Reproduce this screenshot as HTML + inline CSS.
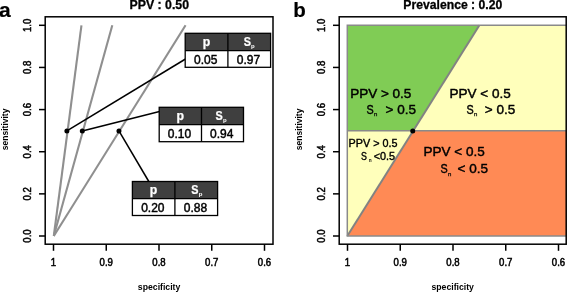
<!DOCTYPE html>
<html><head><meta charset="utf-8">
<style>
html,body{margin:0;padding:0;background:#fff;}
body{width:567px;height:292px;overflow:hidden;}
svg{display:block;font-family:"Liberation Sans",sans-serif;will-change:transform;}
.b{font-weight:bold;}
</style></head>
<body>
<svg width="567" height="292" viewBox="0 0 567 292">
<text x="-1" y="17.3" class="b" font-size="21" stroke="#000" stroke-width="0.2">a</text>
<text x="159.3" y="8.8" class="b" font-size="12.3" text-anchor="middle" stroke="#000" stroke-width="0.3">PPV : 0.50</text>
<g stroke="#8f8f8f" stroke-width="2.1" fill="none">
<line x1="53.80" y1="236.00" x2="81.46" y2="25.30"/>
<line x1="53.80" y1="236.00" x2="112.31" y2="25.30"/>
<line x1="53.80" y1="236.00" x2="185.57" y2="25.30"/>
</g>
<g stroke="#000" stroke-width="1.5" fill="none">
<line x1="66.88" y1="130.95" x2="185.5" y2="59.0"/>
<line x1="82.31" y1="130.95" x2="159.5" y2="111.6"/>
<line x1="118.94" y1="130.95" x2="148.8" y2="181.5"/>
</g>
<g fill="#000">
<circle cx="66.88" cy="130.95" r="2.5"/>
<circle cx="82.31" cy="130.95" r="2.5"/>
<circle cx="118.94" cy="130.95" r="2.5"/>
</g>
<rect x="45.20" y="16.8" width="227.80" height="227.4" fill="none" stroke="#000" stroke-width="1.5"/>
<g stroke="#000" stroke-width="1.5">
<line x1="39.00" y1="236.00" x2="45.20" y2="236.00"/>
<line x1="39.00" y1="193.86" x2="45.20" y2="193.86"/>
<line x1="39.00" y1="151.72" x2="45.20" y2="151.72"/>
<line x1="39.00" y1="109.58" x2="45.20" y2="109.58"/>
<line x1="39.00" y1="67.44" x2="45.20" y2="67.44"/>
<line x1="39.00" y1="25.30" x2="45.20" y2="25.30"/>
<line x1="53.50" y1="244.2" x2="53.50" y2="250.8"/>
<line x1="106.25" y1="244.2" x2="106.25" y2="250.8"/>
<line x1="159.00" y1="244.2" x2="159.00" y2="250.8"/>
<line x1="211.75" y1="244.2" x2="211.75" y2="250.8"/>
<line x1="264.50" y1="244.2" x2="264.50" y2="250.8"/>
</g>
<g font-size="10.1" text-anchor="middle" stroke="#000" stroke-width="0.5"><text transform="translate(53.50,266.1) scale(0.95,1)">1</text><text transform="translate(106.25,266.1) scale(0.95,1)">0.9</text><text transform="translate(159.00,266.1) scale(0.95,1)">0.8</text><text transform="translate(211.75,266.1) scale(0.95,1)">0.7</text><text transform="translate(264.50,266.1) scale(0.95,1)">0.6</text><text transform="translate(31.30,236.00) rotate(-90) scale(0.95,1)">0.0</text><text transform="translate(31.30,193.86) rotate(-90) scale(0.95,1)">0.2</text><text transform="translate(31.30,151.72) rotate(-90) scale(0.95,1)">0.4</text><text transform="translate(31.30,109.58) rotate(-90) scale(0.95,1)">0.6</text><text transform="translate(31.30,67.44) rotate(-90) scale(0.95,1)">0.8</text><text transform="translate(31.30,25.30) rotate(-90) scale(0.95,1)">1.0</text></g>

<text class="b" font-size="8.7" text-anchor="middle" x="159.10" y="289.6">specificity</text>
<text class="b" font-size="8.5" text-anchor="middle" transform="translate(8.40,129.4) rotate(-90)">sensitivity</text>
<rect x="185.2" y="33.3" width="85.40" height="17.30" fill="#3f3f3f"/>
<rect x="185.2" y="50.6" width="85.40" height="16.70" fill="#fff"/>
<rect x="185.2" y="33.3" width="85.40" height="34.00" fill="none" stroke="#000" stroke-width="1.3"/>
<line x1="185.2" y1="50.6" x2="270.6" y2="50.6" stroke="#000" stroke-width="1.3"/>
<line x1="227.9" y1="33.3" x2="227.9" y2="67.3" stroke="#000" stroke-width="1.3"/>
<text x="206.45" y="45.90" fill="#fff" stroke="#fff" stroke-width="0.25" class="b" font-size="12.3" text-anchor="middle">p</text>
<text transform="translate(243.65,45.80) scale(0.88,1)" fill="#fff" stroke="#fff" stroke-width="0.25" class="b" font-size="12.3">S</text>
<text x="250.95" y="47.90" fill="#fff" class="b" font-size="6">p</text>
<text x="205.75" y="63.50" font-size="12" text-anchor="middle" stroke="#000" stroke-width="0.45">0.05</text>
<text x="248.45" y="63.50" font-size="12" text-anchor="middle" stroke="#000" stroke-width="0.45">0.97</text>
<rect x="159.2" y="107.3" width="84.30" height="17.30" fill="#3f3f3f"/>
<rect x="159.2" y="124.6" width="84.30" height="17.10" fill="#fff"/>
<rect x="159.2" y="107.3" width="84.30" height="34.40" fill="none" stroke="#000" stroke-width="1.3"/>
<line x1="159.2" y1="124.6" x2="243.5" y2="124.6" stroke="#000" stroke-width="1.3"/>
<line x1="201.5" y1="107.3" x2="201.5" y2="141.7" stroke="#000" stroke-width="1.3"/>
<text x="180.25" y="119.90" fill="#fff" stroke="#fff" stroke-width="0.25" class="b" font-size="12.3" text-anchor="middle">p</text>
<text transform="translate(215.60,119.80) scale(0.88,1)" fill="#fff" stroke="#fff" stroke-width="0.25" class="b" font-size="12.3">S</text>
<text x="222.90" y="121.90" fill="#fff" class="b" font-size="6">p</text>
<text x="179.55" y="137.50" font-size="12" text-anchor="middle" stroke="#000" stroke-width="0.45">0.10</text>
<text x="221.70" y="137.50" font-size="12" text-anchor="middle" stroke="#000" stroke-width="0.45">0.94</text>
<rect x="132.4" y="181.5" width="85.20" height="17.10" fill="#3f3f3f"/>
<rect x="132.4" y="198.6" width="85.20" height="16.90" fill="#fff"/>
<rect x="132.4" y="181.5" width="85.20" height="34.00" fill="none" stroke="#000" stroke-width="1.3"/>
<line x1="132.4" y1="198.6" x2="217.6" y2="198.6" stroke="#000" stroke-width="1.3"/>
<line x1="174.9" y1="181.5" x2="174.9" y2="215.5" stroke="#000" stroke-width="1.3"/>
<text x="153.55" y="194.10" fill="#fff" stroke="#fff" stroke-width="0.25" class="b" font-size="12.3" text-anchor="middle">p</text>
<text transform="translate(191.35,194.00) scale(0.88,1)" fill="#fff" stroke="#fff" stroke-width="0.25" class="b" font-size="12.3">S</text>
<text x="198.65" y="196.10" fill="#fff" class="b" font-size="6">p</text>
<text x="152.85" y="211.50" font-size="12" text-anchor="middle" stroke="#000" stroke-width="0.45">0.20</text>
<text x="195.45" y="211.50" font-size="12" text-anchor="middle" stroke="#000" stroke-width="0.45">0.88</text>
<text x="293.2" y="17.2" class="b" font-size="20.5" stroke="#000" stroke-width="0.2">b</text>
<text x="452.80" y="9.4" class="b" font-size="12.2" text-anchor="middle" stroke="#000" stroke-width="0.3">Prevalence : 0.20</text>
<polygon points="347.30,130.65 347.30,25.30 479.38,25.30 413.44,130.65" fill="#80cc55"/>
<polygon points="413.44,130.65 479.38,25.30 566.2,25.30 566.2,130.65" fill="#ffffbb"/>
<polygon points="347.30,236.00 347.30,130.65 413.44,130.65" fill="#ffffbb"/>
<polygon points="347.30,236.00 413.44,130.65 566.2,130.65 566.2,236.00" fill="#ff8a55"/>
<line x1="347.30" y1="236.00" x2="479.38" y2="25.30" stroke="#828282" stroke-width="2"/>
<g stroke="#8a8a8a" stroke-width="1.5" fill="none">
<line x1="347.30" y1="130.65" x2="566.2" y2="130.65"/>
<polyline points="566.2,25.30 347.30,25.30 347.30,236.00 566.2,236.00"/>
</g>
<circle cx="412.74" cy="131.05" r="2.5" fill="#000"/>
<rect x="339.20" y="16.8" width="227.00" height="227.4" fill="none" stroke="#000" stroke-width="1.5"/>
<g stroke="#000" stroke-width="1.5">
<line x1="333.00" y1="236.00" x2="339.20" y2="236.00"/>
<line x1="333.00" y1="193.86" x2="339.20" y2="193.86"/>
<line x1="333.00" y1="151.72" x2="339.20" y2="151.72"/>
<line x1="333.00" y1="109.58" x2="339.20" y2="109.58"/>
<line x1="333.00" y1="67.44" x2="339.20" y2="67.44"/>
<line x1="333.00" y1="25.30" x2="339.20" y2="25.30"/>
<line x1="347.50" y1="244.2" x2="347.50" y2="250.8"/>
<line x1="400.25" y1="244.2" x2="400.25" y2="250.8"/>
<line x1="453.00" y1="244.2" x2="453.00" y2="250.8"/>
<line x1="505.75" y1="244.2" x2="505.75" y2="250.8"/>
<line x1="558.50" y1="244.2" x2="558.50" y2="250.8"/>
</g>
<g font-size="10.1" text-anchor="middle" stroke="#000" stroke-width="0.5"><text transform="translate(347.50,266.1) scale(0.95,1)">1</text><text transform="translate(400.25,266.1) scale(0.95,1)">0.9</text><text transform="translate(453.00,266.1) scale(0.95,1)">0.8</text><text transform="translate(505.75,266.1) scale(0.95,1)">0.7</text><text transform="translate(558.50,266.1) scale(0.95,1)">0.6</text><text transform="translate(325.30,236.00) rotate(-90) scale(0.95,1)">0.0</text><text transform="translate(325.30,193.86) rotate(-90) scale(0.95,1)">0.2</text><text transform="translate(325.30,151.72) rotate(-90) scale(0.95,1)">0.4</text><text transform="translate(325.30,109.58) rotate(-90) scale(0.95,1)">0.6</text><text transform="translate(325.30,67.44) rotate(-90) scale(0.95,1)">0.8</text><text transform="translate(325.30,25.30) rotate(-90) scale(0.95,1)">1.0</text></g>

<text class="b" font-size="8.7" text-anchor="middle" x="452.70" y="289.6">specificity</text>
<text class="b" font-size="8.5" text-anchor="middle" transform="translate(302.40,129.4) rotate(-90)">sensitivity</text>
<g font-size="13.5" stroke="#000" stroke-width="0.45">
<text x="350.2" y="98.2">PPV &gt; 0.5</text>
<text transform="translate(366.6,113.8) scale(0.8,0.95)">S</text><text x="373.9" y="115.9" font-size="6" stroke-width="0.25">n</text><text x="385.6" y="114.1">&gt; 0.5</text>
<text x="449.5" y="98.2">PPV &lt; 0.5</text>
<text transform="translate(466.6,113.8) scale(0.8,0.95)">S</text><text x="473.9" y="115.9" font-size="6" stroke-width="0.25">n</text><text x="484.8" y="114.1">&gt; 0.5</text>
<text x="423.6" y="156.1">PPV &lt; 0.5</text>
<text transform="translate(440.5,172.5) scale(0.8,0.95)">S</text><text x="447.9" y="175.7" font-size="6" stroke-width="0.25">n</text><text x="457.6" y="172.8">&lt; 0.5</text>
</g>
<g font-size="10.8" stroke="#000" stroke-width="0.38">
<text x="348.6" y="147.1">PPV &gt; 0.5</text>
<text transform="translate(361,159.5) scale(0.82,0.95)">S</text><text x="368.9" y="161.6" font-size="4.5" stroke-width="0.15">n</text><text x="373.8" y="159.7">&lt;0.5</text>
</g>
</svg>
</body></html>
